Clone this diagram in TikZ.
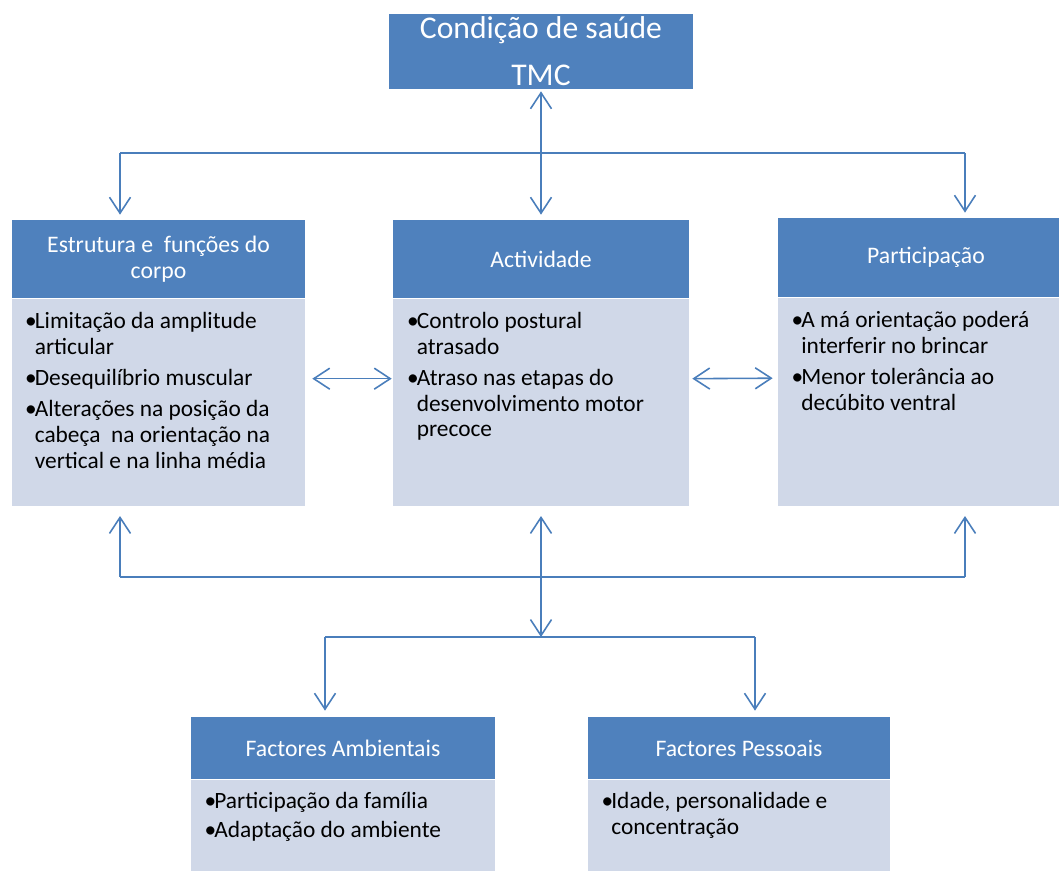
\documentclass[tikz,border=0pt]{standalone}
\usepackage{fontspec}
\setmainfont{Carlito}
\usepackage{tikz}
\usetikzlibrary{positioning, arrows.meta}
\definecolor{hdrblue}{HTML}{4F81BD}
\definecolor{bodyblue}{HTML}{D0D8E8}
\definecolor{linkblue}{HTML}{4A7EBB}
\newcommand{\bl}{\makebox[0.42em][l]{•}}

\begin{document}
\begin{tikzpicture}[
    x=0.02cm, y=-0.02cm,
    header/.style={rectangle, fill=hdrblue, text=white, align=center, inner sep=0pt, font=\fontsize{13.5}{14.7}\selectfont},
    bodybox/.style={rectangle, fill=bodyblue, inner sep=0pt},
    items/.style={anchor=base west, inner sep=0pt, font=\fontsize{13.3}{14.7}\selectfont},
    link/.style={draw=linkblue, line width=0.9pt},
    arrow/.style={link, -{Straight Barb[length=0.32cm, width=0.42cm]}},
    twoway/.style={link, {Straight Barb[length=0.32cm, width=0.42cm]}-{Straight Barb[length=0.32cm, width=0.42cm]}}
]
    \useasboundingbox (0,0) rectangle (1059,871);
    \clip (0,0) rectangle (1059,871);

    % Condition
    \node[header, minimum width=6.08cm, minimum height=1.5cm, font=\fontsize{18}{26.6}\selectfont] (tmc) at (541,51.5) {Condição de saúde\\TMC};

    % Components
    \node[header, minimum width=5.86cm, minimum height=1.56cm] (hA) at (158.5,259) {Estrutura e \ funções do\\corpo};
    \node[bodybox, minimum width=5.86cm, minimum height=4.14cm, below=0pt of hA] (bA) {};
    \node[items] (tA) at ([xshift=0.26cm, yshift=-0.6cm]bA.north west) {%
        \begin{tabular}[t]{@{}l@{}l@{}}
        \bl & Limitação da amplitude\\
            & articular\\[3pt]
        \bl & Desequilíbrio muscular\\[3pt]
        \bl & Alterações na posição da\\
            & cabeça \ na orientação na\\
            & vertical e na linha média
        \end{tabular}};

    \node[header, minimum width=5.92cm, minimum height=1.56cm] (hB) at (541,259) {Actividade};
    \node[bodybox, minimum width=5.92cm, minimum height=4.14cm, below=0pt of hB] (bB) {};
    \node[items] (tB) at ([xshift=0.28cm, yshift=-0.6cm]bB.north west) {%
        \begin{tabular}[t]{@{}l@{}l@{}}
        \bl & Controlo postural\\
            & atrasado\\[3pt]
        \bl & Atraso nas etapas do\\
            & desenvolvimento motor\\
            & precoce
        \end{tabular}};

    \node[header, minimum width=5.92cm, minimum height=1.58cm] (hC) at (926,257.5) {Participação};
    \node[bodybox, minimum width=5.92cm, minimum height=4.16cm, below=0pt of hC] (bC) {};
    \node[items] (tC) at ([xshift=0.27cm, yshift=-0.6cm]bC.north west) {%
        \begin{tabular}[t]{@{}l@{}l@{}}
        \bl & A má orientação poderá\\
            & interferir no brincar\\[3pt]
        \bl & Menor tolerância ao\\
            & decúbito ventral
        \end{tabular}};

    % Factors
    \node[header, minimum width=6.08cm, minimum height=1.24cm] (hD) at (343,748) {Factores Ambientais};
    \node[bodybox, minimum width=6.08cm, minimum height=2.4cm, below=0pt of hD] (bD) {};
    \node[items] (tD) at ([xshift=0.27cm, yshift=-0.58cm]bD.north west) {%
        \begin{tabular}[t]{@{}l@{}l@{}}
        \bl & Participação da família\\[2pt]
        \bl & Adaptação do ambiente
        \end{tabular}};

    \node[header, minimum width=6.04cm, minimum height=1.24cm] (hE) at (739,748) {Factores Pessoais};
    \node[bodybox, minimum width=6.04cm, minimum height=2.4cm, below=0pt of hE] (bE) {};
    \node[items] (tE) at ([xshift=0.27cm, yshift=-0.58cm]bE.north west) {%
        \begin{tabular}[t]{@{}l@{}l@{}}
        \bl & Idade, personalidade e\\
            & concentração
        \end{tabular}};

    % Junctions
    \coordinate (jTL) at (120,153);
    \coordinate (jTR) at (965,153);
    \coordinate (jBL) at (120,577);
    \coordinate (jBR) at (965,577);
    \coordinate (jF) at (541,637);
    \coordinate (jFL) at (325,637);
    \coordinate (jFR) at (755,637);

    % Links
    \draw[twoway, shorten <=0.04cm, shorten >=0.1cm] (tmc.south) -- (hB.north);
    \draw[link] (jTL) -- (jTR);
    \draw[arrow, shorten >=0.1cm] (jTL) -- (jTL |- hA.north);
    \draw[arrow, shorten >=0.1cm] (jTR) -- (jTR |- hC.north);
    \draw[twoway, shorten <=0.14cm, shorten >=0.02cm] ([yshift=0.47cm]bA.east) -- ([yshift=0.47cm]bB.west);
    \draw[twoway, shorten <=0.06cm, shorten >=0.1cm] ([yshift=0.47cm]bB.east) -- ([yshift=0.47cm]bC.west);
    \draw[link] (jBL) -- (jBR);
    \draw[arrow, shorten >=0.2cm] (jBL) -- (jBL |- bA.south);
    \draw[arrow, shorten >=0.2cm] (jBR) -- (jBR |- bC.south);
    \draw[twoway, shorten <=0.2cm] (bB.south) -- (jF);
    \draw[link] (jFL) -- (jFR);
    \draw[arrow, shorten >=0.12cm] (jFL) -- (jFL |- hD.north);
    \draw[arrow, shorten >=0.12cm] (jFR) -- (jFR |- hE.north);
\end{tikzpicture}
\end{document}
